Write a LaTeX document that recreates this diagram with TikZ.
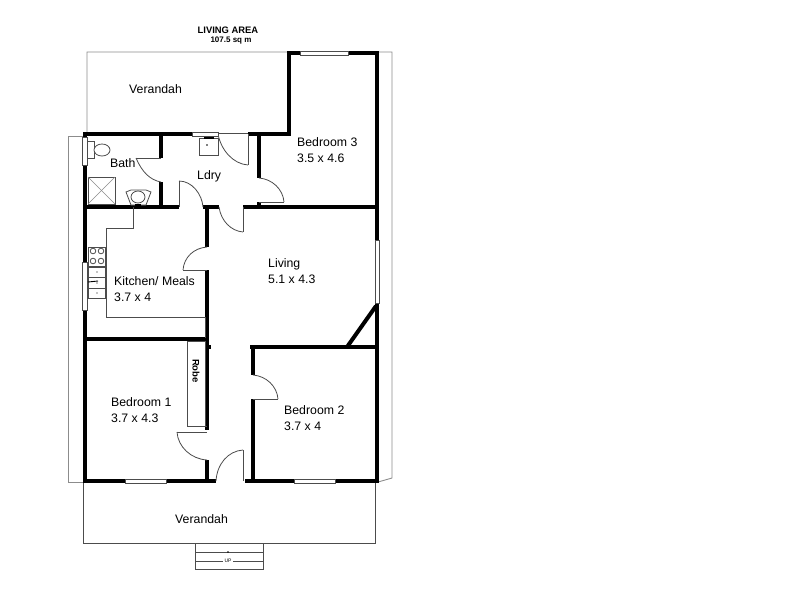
\documentclass[tikz,border=0pt]{standalone}
\usepackage{fontspec}
\setmainfont{Liberation Sans}
\definecolor{linegray}{gray}{0.3}
\definecolor{roofgray}{gray}{0.55}
\tikzset{
  wall/.style={draw=black,line width=4pt},
  thinline/.style={draw=linegray,line width=0.8pt},
  roofline/.style={draw=roofgray,line width=0.9pt},
  fixture/.style={draw=black!70,line width=0.8pt,fill=white},
  window/.style={draw=linegray,line width=1pt,fill=white},
  roomlabel/.style={font=\fontsize{12.3}{15.5}\selectfont,align=left,anchor=west,inner sep=0pt},
}
\begin{document}
\begin{tikzpicture}[x=1pt,y=-1pt]
\useasboundingbox (0,0) rectangle (800,600);
% verandahs and roof outline
\draw[roofline] (87,134) -- (87,52) -- (392,52) -- (392,478) -- (378,482);
\draw[thinline] (83,482) -- (83,543) -- (375,543) -- (375,482);
\draw[roofline] (85,136) -- (68,136) -- (68,482) -- (85,482);
% steps
\draw[thinline] (195,543) rectangle (263,569);
\draw[thinline] (195,552) -- (263,552);
\draw[thinline] (195,561) -- (223,561);
\draw[thinline] (233,561) -- (263,561);
\fill (228,552) circle (0.9);
% walls
\draw[wall] (85,134) -- (192,134);
\draw[wall] (248,134) -- (291,134);
\draw[wall] (289,134) -- (289,53) -- (379,53);
\draw[wall] (85,132) -- (85,483);
\draw[wall] (85,481) -- (216,481);
\draw[wall] (245,481) -- (379,481);
\draw[wall] (377,53) -- (377,483);
\draw[wall] (161,134) -- (161,158);
\draw[wall] (161,182) -- (161,207);
\draw[wall] (85,207) -- (179,207);
\draw[wall] (203,207) -- (219,207);
\draw[wall] (243,207) -- (377,207);
\draw[wall] (207,207) -- (207,247);
\draw[wall] (207,270) -- (207,430);
\draw[wall] (85,339) -- (207,339);
\draw[wall] (207,460) -- (207,481);
\draw[wall] (259,134) -- (259,178);
\draw[wall] (259,202) -- (259,207);
\draw[wall] (250,347) -- (377,347);
\draw[wall] (253,347) -- (253,375);
\draw[wall] (253,399) -- (253,481);
\draw[wall] (347,347) -- (376,306);
\fill (207,345) rectangle (211,349);
% doors
\draw[thinline] (136,158) -- (161,158);
\draw[thinline] (136,158) .. controls (142,172) and (150,180) .. (161,182);
\draw[thinline] (179,207) -- (179,181);
\draw[thinline] (179,181) .. controls (192,181) and (202,194) .. (203,207);
\draw[thinline] (248,134) -- (248,165);
\draw[thinline] (218,134) .. controls (221,150) and (233,164) .. (248,165);
\draw[thinline] (218,133) -- (248,133);
\draw[thinline] (243,207) -- (243,232);
\draw[thinline] (219,207) .. controls (221,221) and (231,231) .. (243,232);
\draw[thinline] (259,178) .. controls (272,179) and (283,189) .. (284,202);
\draw[thinline] (259,202) -- (284,202);
\draw[thinline] (207,247) .. controls (194,248) and (184,257) .. (183,270);
\draw[thinline] (183,270) -- (207,270);
\draw[thinline] (177,432) -- (207,432);
\draw[thinline] (177,432) .. controls (178,447) and (191,459) .. (207,460);
\draw[thinline] (243,481) -- (243,450);
\draw[thinline] (243,450) .. controls (228,451) and (217,464) .. (216,481);
\draw[thinline] (253,375) .. controls (266,376) and (277,386) .. (278,399);
\draw[thinline] (253,399) -- (278,399);
% windows
\draw[window] (300,51) rectangle (348,55);
\draw[window] (192,132) rectangle (218,136);
\draw[window] (82,137) rectangle (87,165);
\draw[window] (82,262) rectangle (87,310);
\draw[window] (375,240) rectangle (379,303);
\draw[window] (125,479) rectangle (166,483);
\draw[window] (294,479) rectangle (335,483);
% kitchen bench and robe
\draw[thinline] (133,207) -- (133,228) -- (106,228) -- (106,317) -- (205,317) -- (205,338);
\draw[thinline] (187,341) rectangle (205,426);
\draw[thinline] (187,426) -- (207,426);
% bath fixtures
\draw[fixture] (87,141) rectangle (94,158);
\draw[fixture] (102,150) ellipse (8 and 6);
\draw[fixture] (88,177) rectangle (115,204);
\draw[roofline,line width=0.5pt] (88,177) -- (115,204);
\draw[roofline,line width=0.5pt] (115,177) -- (88,204);
\draw[fixture] (126,192) -- (131,190) -- (146,190) -- (151,192) -- (146,205) -- (131,205) -- cycle;
\draw[fixture] (138,197) ellipse (7 and 6);
\fill (135,204) rectangle (141,207);
% trough
\draw[fixture] (199,138) rectangle (218,155);
\fill (204,137) rectangle (214,139);
\fill (207,145) circle (0.8);
% stove and sink
\draw[fixture] (88,247) rectangle (105,266);
\foreach \px/\py in {93/251,101/251,93/261,101/261}
  \draw[thinline] (\px,\py) circle (2.8);
\draw[fixture] (88,267) rectangle (105,298);
\draw[thinline] (88,277) -- (105,277);
\draw[thinline] (88,288) -- (105,288);
\foreach \py in {272,283,293}
  \fill (97,\py) circle (0.7);
\draw[black,line width=0.9pt] (88,282) -- (98,281);
% labels
\node[font=\bfseries\fontsize{9.4}{11}\selectfont,inner sep=0pt] (title) at (228,30) {LIVING AREA};
\node[font=\bfseries\fontsize{8}{10}\selectfont,inner sep=0pt] (area) at (231,41) {107.5 sq m};
\node[roomlabel] (verandahback) at (129,89) {Verandah};
\node[roomlabel] (bedthree) at (297,150) {Bedroom 3\\3.5 x 4.6};
\node[roomlabel] (bath) at (110,163) {Bath};
\node[roomlabel] (ldry) at (197,176) {Ldry};
\node[roomlabel] (living) at (268,271) {Living\\5.1 x 4.3};
\node[roomlabel] (kitchen) at (114,289) {Kitchen/ Meals\\3.7 x 4};
\node[roomlabel,rotate=-90,anchor=center,font=\bfseries\fontsize{9.5}{11}\selectfont] (robe) at (196,371) {Robe};
\node[roomlabel] (bedone) at (111,410) {Bedroom 1\\3.7 x 4.3};
\node[roomlabel] (bedtwo) at (284,418) {Bedroom 2\\3.7 x 4};
\node[roomlabel] (verandahfront) at (175,519) {Verandah};
\node[font=\fontsize{5}{6}\selectfont,inner sep=0pt] (up) at (228,561) {UP};
\end{tikzpicture}
\end{document}
